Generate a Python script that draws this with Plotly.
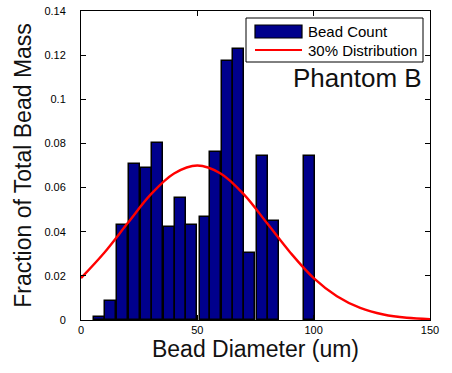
import plotly.graph_objects as go

# ---- data ----
bead_diam = [8.0, 12.8, 17.8, 22.9, 28.0, 32.9, 37.9, 42.8, 47.5,
             53.3, 58.0, 62.8, 67.5, 72.6, 78.1, 82.8, 98.3]
bead_frac = [0.0015, 0.0088, 0.043, 0.0706, 0.0688, 0.080, 0.0423, 0.0552, 0.043,
             0.0466, 0.0763, 0.1172, 0.1229, 0.0305, 0.0745, 0.0449, 0.0745]

dist_x = [0, 10, 20, 30, 40, 50, 60, 70, 80, 90, 100, 110, 120, 130, 140, 150]
dist_y = [0.019, 0.0305, 0.0438, 0.0569, 0.0664, 0.070, 0.0664, 0.0569, 0.0438,
          0.0305, 0.019, 0.0108, 0.0055, 0.0025, 0.0010, 0.0004]

x_ticks = [0, 50, 100, 150]
y_ticks = [0, 0.02, 0.04, 0.06, 0.08, 0.10, 0.12, 0.14]
y_tick_labels = ["0", "0.02", "0.04", "0.06", "0.08", "0.1", "0.12", "0.14"]

legend_names = ["Bead Count", "30% Distribution"]
panel_label = "Phantom B"

# ---- layout geometry (pixels) ----
W, H = 452, 373
L, R, T, B = 81, 22, 11, 53
PW, PH = W - L - R, H - T - B

def px(x):
    return (x - L) / PW

def py(y):
    return (H - B - y) / PH

FONT = "Liberation Sans, Arial, sans-serif"
NAVY = "#00008C"

fig = go.Figure()
fig.add_trace(go.Bar(x=bead_diam, y=bead_frac, width=4.7,
                     marker=dict(color=NAVY, line=dict(color="black", width=1.5)),
                     name=legend_names[0], showlegend=False))
fig.add_trace(go.Scatter(x=dist_x, y=dist_y, mode="lines",
                         line=dict(color="#FF0000", width=2.4, shape="spline"),
                         name=legend_names[1], showlegend=False))

axis_common = dict(showgrid=False, zeroline=False, showline=True, linecolor="black",
                   linewidth=1, mirror="ticks", ticks="inside", ticklen=5,
                   tickcolor="black", tickfont=dict(family=FONT, size=11, color="black"))

fig.update_xaxes(range=[0, 150], tickvals=x_ticks, **axis_common,
                 title=dict(text="Bead Diameter (um)",
                            font=dict(family=FONT, size=23, color="#111"), standoff=5))
fig.update_yaxes(range=[0, 0.14], tickvals=y_ticks, ticktext=y_tick_labels,
                 ticklabelstandoff=12, **axis_common,
                 title=dict(text="Fraction of Total Bead Mass",
                            font=dict(family=FONT, size=23, color="#111"), standoff=6))

shapes = [
    # legend box
    dict(type="rect", xref="paper", yref="paper", x0=px(246), x1=px(423), y0=py(62), y1=py(18),
         fillcolor="white", line=dict(color="black", width=1)),
    # bar patch
    dict(type="rect", xref="paper", yref="paper", x0=px(255), x1=px(302), y0=py(38), y1=py(25),
         fillcolor=NAVY, line=dict(color="black", width=1.2)),
    # red line
    dict(type="line", xref="paper", yref="paper", x0=px(255), x1=px(302), y0=py(50), y1=py(50),
         line=dict(color="#FF0000", width=2.2)),
]
annotations = [
    dict(text=legend_names[0], xref="paper", yref="paper", x=px(306), y=py(31.5),
         xanchor="left", yanchor="middle", showarrow=False,
         font=dict(family=FONT, size=15, color="black")),
    dict(text=legend_names[1], xref="paper", yref="paper", x=px(306), y=py(50),
         xanchor="left", yanchor="middle", showarrow=False,
         font=dict(family=FONT, size=15, color="black")),
    dict(text=panel_label, xref="paper", yref="paper", x=px(424), y=py(78),
         xanchor="right", yanchor="middle", showarrow=False,
         font=dict(family=FONT, size=26, color="#111")),
]

fig.update_layout(width=W, height=H, margin=dict(l=L, r=R, t=T, b=B, autoexpand=False),
                  plot_bgcolor="white", paper_bgcolor="white", bargap=0,
                  shapes=shapes, annotations=annotations, showlegend=False)

fig.write_html("out.html")
